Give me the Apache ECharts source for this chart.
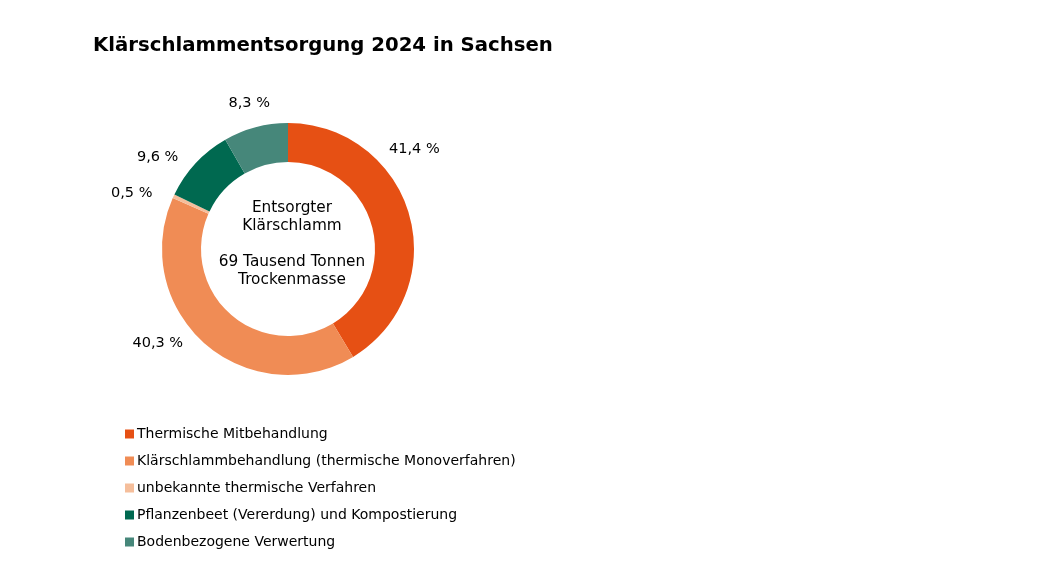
<!DOCTYPE html>
<html><head><meta charset="utf-8">
<script src="https://cdn.jsdelivr.net/npm/echarts@6/dist/echarts.min.js"></script>
<style>html,body{margin:0;padding:0;background:#fff}#c{width:1057px;height:564px}</style>
</head><body><div id="c"></div>
<script>
const categories = ["Thermische Mitbehandlung","Klärschlammbehandlung (thermische Monoverfahren)","unbekannte thermische Verfahren","Pflanzenbeet (Vererdung) und Kompostierung","Bodenbezogene Verwertung"];
const values = [41.4, 40.3, 0.5, 9.6, 8.3];
const labelTexts = ["41,4 %","40,3 %","0,5 %","9,6 %","8,3 %"];
const colors = ["#E65014","#F08C55","#F5BE9B","#006950","#46877A"];
const labelOffsets = [[-35,-63],[-10,-8],[-7,1],[-5,1],[22,-14]];
const FONT = "DejaVu Sans";
const chart = echarts.init(document.getElementById('c'));
chart.setOption({
  animation:false,
  title:[{text:"Klärschlammentsorgung 2024 in Sachsen",left:88,top:31,textStyle:{fontFamily:FONT,fontWeight:"bold",fontSize:19.7,color:"#000"}},
    {text:"Entsorgter\nKlärschlamm\n\n69 Tausend Tonnen\nTrockenmasse",left:287,top:194,textAlign:"center",textStyle:{fontFamily:FONT,fontWeight:"normal",fontSize:15.3,lineHeight:18,color:"#000"}}],
  legend:{orient:"vertical",left:120,top:422,height:200,itemWidth:9,itemHeight:9,itemGap:13,icon:"rect",textStyle:{fontFamily:FONT,fontSize:14,color:"#000",padding:[0,0,0,-2]},data:categories},
  series:[{type:"pie",center:[288,249],radius:[87,126],startAngle:90,clockwise:true,
    color:colors,
    label:{show:true,position:"outside",fontFamily:FONT,fontSize:14.5,color:"#000"},
    labelLine:{show:false,length:10,length2:0},
    emphasis:{disabled:true},
    data:categories.map((n,i)=>({name:n,value:values[i],label:{formatter:labelTexts[i],offset:labelOffsets[i]}}))}]
});
</script></body></html>
